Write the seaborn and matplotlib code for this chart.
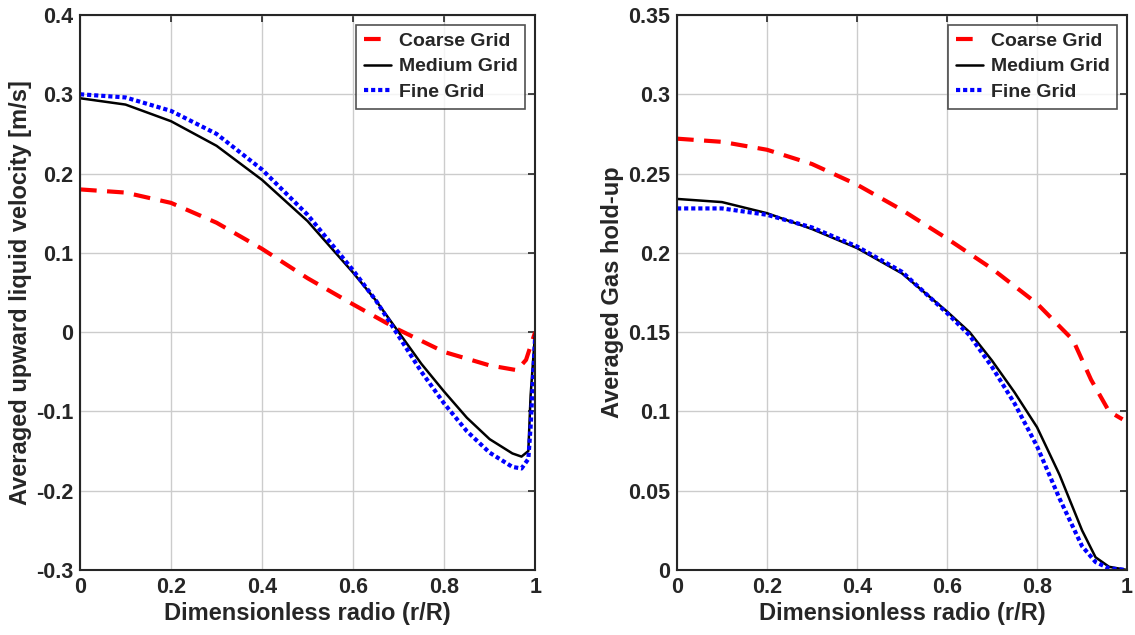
import matplotlib
matplotlib.use("Agg")
import matplotlib.pyplot as plt
import seaborn as sns
import pandas as pd

# Left panel: averaged upward liquid velocity [m/s]
vel_coarse_x = [0, 0.1, 0.2, 0.3, 0.4, 0.5, 0.6, 0.7, 0.8, 0.9, 0.96, 0.98, 1.0]
vel_coarse_y = [0.18, 0.176, 0.163, 0.138, 0.105, 0.068, 0.035, 0.003, -0.025, -0.042, -0.048, -0.035, 0.0]
vel_medium_x = [0, 0.1, 0.2, 0.3, 0.4, 0.5, 0.6, 0.65, 0.7, 0.75, 0.8, 0.85, 0.9, 0.95, 0.97, 0.985, 0.99, 1.0]
vel_medium_y = [0.295, 0.287, 0.266, 0.235, 0.192, 0.14, 0.075, 0.04, 0.0, -0.04, -0.075, -0.108, -0.135,
                -0.153, -0.157, -0.15, -0.08, 0.0]
vel_fine_x = [0, 0.1, 0.2, 0.3, 0.4, 0.5, 0.6, 0.65, 0.7, 0.75, 0.8, 0.85, 0.9, 0.95, 0.97, 0.985, 0.99, 1.0]
vel_fine_y = [0.3, 0.296, 0.279, 0.25, 0.205, 0.148, 0.078, 0.04, -0.005, -0.05, -0.09, -0.125, -0.152,
              -0.17, -0.172, -0.16, -0.12, -0.005]

# Right panel: averaged gas hold-up
gas_coarse_x = [0, 0.1, 0.2, 0.3, 0.4, 0.5, 0.6, 0.7, 0.8, 0.88, 0.92, 0.96, 0.99]
gas_coarse_y = [0.272, 0.27, 0.265, 0.256, 0.243, 0.227, 0.209, 0.19, 0.168, 0.145, 0.12, 0.1, 0.095]
gas_medium_x = [0, 0.1, 0.2, 0.3, 0.4, 0.5, 0.6, 0.65, 0.7, 0.75, 0.8, 0.85, 0.9, 0.93, 0.96, 1.0]
gas_medium_y = [0.234, 0.232, 0.225, 0.215, 0.203, 0.187, 0.163, 0.15, 0.132, 0.112, 0.09, 0.06, 0.025,
                0.008, 0.002, 0.0]
gas_fine_x = [0, 0.1, 0.2, 0.3, 0.4, 0.5, 0.6, 0.65, 0.7, 0.75, 0.8, 0.85, 0.9, 0.93, 0.96, 1.0]
gas_fine_y = [0.228, 0.228, 0.224, 0.216, 0.204, 0.188, 0.162, 0.148, 0.128, 0.105, 0.078, 0.045, 0.015,
              0.005, 0.001, 0.0]

labels = ["Coarse Grid", "Medium Grid", "Fine Grid"]

sns.set_style("white")
plt.rcParams['font.family'] = ['Liberation Sans', 'DejaVu Sans']
plt.rcParams['font.weight'] = 'bold'
plt.rcParams['axes.labelweight'] = 'bold'

fig = plt.figure(figsize=(11.35, 6.35), dpi=100)
ax1 = fig.add_axes([0.0705, 0.1024, 0.401, 0.874])
ax2 = fig.add_axes([0.5965, 0.1024, 0.3965, 0.874])


def draw(ax, series, ylim, yticks, ylabel, yfmt):
    styles = [dict(color='red', linestyle=(0, (4, 2.5)), linewidth=3),
              dict(color='black', linestyle='-', linewidth=1.8),
              dict(color='blue', linestyle=(0, (1, 0.7)), linewidth=3)]
    for (x, y), lab, st in zip(series, labels, styles):
        df = pd.DataFrame({'x': x, 'y': y})
        sns.lineplot(data=df, x='x', y='y', ax=ax, label=lab, sort=False, **st)
    ax.set_xlim(0, 1)
    ax.set_ylim(*ylim)
    ax.set_xticks([0, 0.2, 0.4, 0.6, 0.8, 1])
    ax.set_xticklabels(['0', '0.2', '0.4', '0.6', '0.8', '1'])
    ax.set_yticks(yticks)
    ax.set_yticklabels([yfmt(v) for v in yticks])
    ax.grid(True, color='#cccccc', linewidth=1)
    ax.tick_params(direction='in', length=5, width=1.2, labelsize=15.5, top=True, right=True,
                   colors='#262626', pad=5)
    for t in ax.get_xticklabels() + ax.get_yticklabels():
        t.set_fontweight('bold')
    for s in ax.spines.values():
        s.set_color('#262626')
        s.set_linewidth(1.5)
    ax.set_xlabel('Dimensionless radio (r/R)', fontsize=17, color='#262626', labelpad=3)
    ax.set_ylabel(ylabel, fontsize=17, color='#262626', labelpad=3)
    leg = ax.legend(loc='upper right', fontsize=14, frameon=True, fancybox=False,
                    handlelength=1.4, handletextpad=0.4, borderpad=0.4, labelspacing=0.4,
                    borderaxespad=0.5)
    leg.get_frame().set_edgecolor('#262626')
    leg.get_frame().set_linewidth(1.2)
    for t in leg.get_texts():
        t.set_fontweight('bold')


def fmt_plain(v):
    s = ('%.2f' % v).rstrip('0').rstrip('.')
    return '0' if s in ('-0', '0') else s


draw(ax1, [(vel_coarse_x, vel_coarse_y), (vel_medium_x, vel_medium_y), (vel_fine_x, vel_fine_y)],
     (-0.3, 0.4), [-0.3, -0.2, -0.1, 0, 0.1, 0.2, 0.3, 0.4],
     'Averaged upward liquid velocity [m/s]', fmt_plain)
draw(ax2, [(gas_coarse_x, gas_coarse_y), (gas_medium_x, gas_medium_y), (gas_fine_x, gas_fine_y)],
     (0, 0.35), [0, 0.05, 0.1, 0.15, 0.2, 0.25, 0.3, 0.35],
     'Averaged Gas hold-up', fmt_plain)

fig.savefig('out.png', dpi=100)
